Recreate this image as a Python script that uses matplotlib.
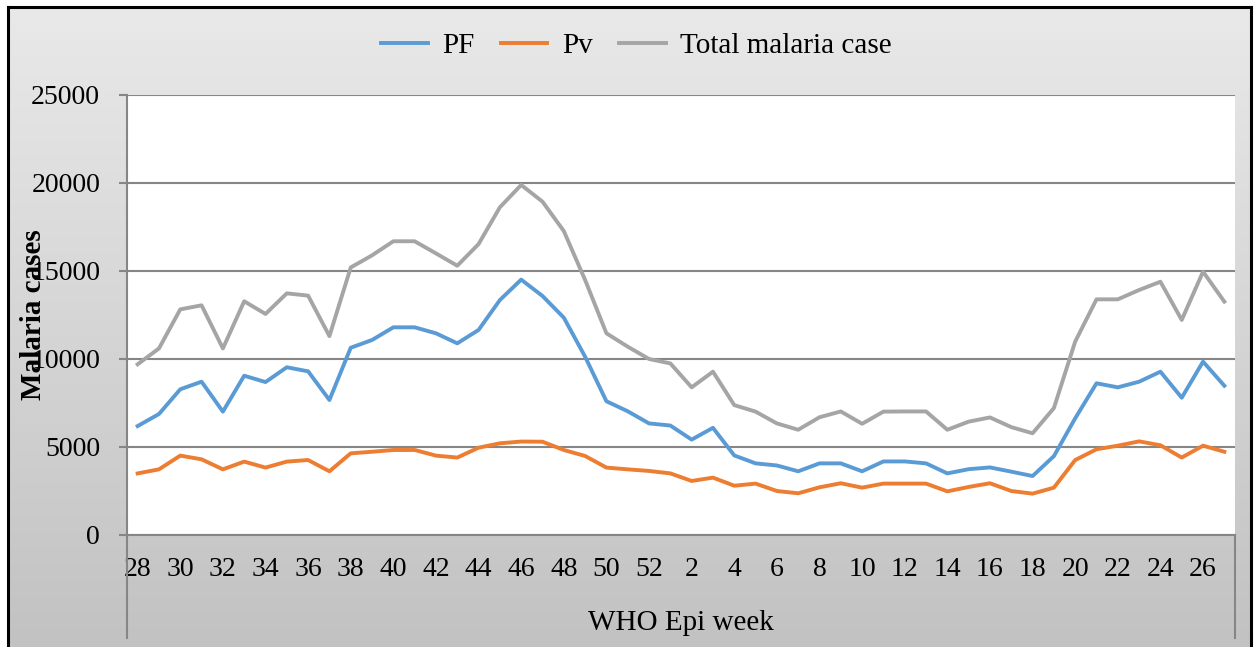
import numpy as np
import matplotlib
matplotlib.use("Agg")
import matplotlib.pyplot as plt
from matplotlib.lines import Line2D
from matplotlib.colors import LinearSegmentedColormap

# ---------------- data ----------------
weeks = [28, 29, 30, 31, 32, 33, 34, 35, 36, 37, 38, 39, 40, 41, 42, 43, 44, 45, 46,
         47, 48, 49, 50, 51, 52, 1, 2, 3, 4, 5, 6, 7, 8, 9, 10, 11, 12, 13, 14, 15,
         16, 17, 18, 19, 20, 21, 22, 23, 24, 25, 26, 27]

pf = [6190, 6875, 8280, 8710, 7010, 9050, 8690, 9530, 9300, 7670,
      10640, 11080, 11800, 11800, 11460, 10890, 11650, 13350, 14510, 13580,
      12350, 10130, 7600, 7030, 6340, 6220, 5420, 6090, 4520, 4070,
      3950, 3620, 4070, 4070, 3620, 4180, 4180, 4070, 3500, 3740,
      3840, 3600, 3350, 4480, 6630, 8620, 8390, 8710, 9280, 7800,
      9850, 8480]

pv = [3500, 3730, 4510, 4300, 3730, 4170, 3830, 4170, 4260, 3620,
      4640, 4730, 4830, 4830, 4510, 4400, 4960, 5210, 5310, 5300,
      4830, 4490, 3830, 3730, 3640, 3500, 3070, 3260, 2800, 2920,
      2500, 2370, 2710, 2940, 2690, 2920, 2920, 2920, 2480, 2730,
      2940, 2500, 2350, 2690, 4260, 4870, 5075, 5320, 5100, 4400,
      5075, 4730]

total = [9700, 10600, 12820, 13050, 10600, 13280, 12560, 13730, 13600, 11300,
         15200, 15890, 16690, 16690, 16000, 15300, 16530, 18620, 19890, 18940,
         17270, 14490, 11460, 10700, 10000, 9750, 8390, 9280, 7380, 7010,
         6340, 5980, 6690, 7020, 6320, 7010, 7020, 7020, 5980, 6440,
         6680, 6130, 5780, 7210, 10990, 13390, 13390, 13920, 14390, 12220,
         14960, 13260]

series_names = ["PF", "Pv", "Total malaria case"]
series_colors = ["#5B9BD5", "#ED7D31", "#A5A5A5"]
y_ticks = [0, 5000, 10000, 15000, 20000, 25000]

# ---------------- figure ----------------
W, H = 1255, 647
fig = plt.figure(figsize=(W / 100, H / 100), dpi=100)
fig.patch.set_facecolor("white")

serif = ["Liberation Serif", "DejaVu Serif"]
plt.rcParams["font.family"] = serif

# gradient background inside the black frame
bx0, bx1, by_top = 8 / W, 1251 / W, 1 - 7 / H
bg = fig.add_axes([bx0, 0, bx1 - bx0, by_top], zorder=-10)
cmap = LinearSegmentedColormap.from_list("g", ["#c2c2c2", "#e9e9e9"])
grad = np.linspace(0, 1, 256).reshape(-1, 1)
bg.imshow(grad, aspect="auto", cmap=cmap, origin="lower", extent=[0, 1, 0, 1])
bg.set_axis_off()

# black frame
for xs, ys in [([bx0, bx0], [0, by_top]), ([bx1, bx1], [0, by_top]), ([bx0, bx1], [by_top, by_top])]:
    fig.add_artist(Line2D(xs, ys, transform=fig.transFigure, color="black", lw=2.2))

# main axes
L, R, T, B = 127, 1235, 95, 535
ax = fig.add_axes([L / W, 1 - B / H, (R - L) / W, (B - T) / H])
ax.set_facecolor("white")

x = np.arange(len(weeks))
for vals, name, col in zip([pf, pv, total], series_names, series_colors):
    ax.plot(x, vals, color=col, lw=2.8, label=name, solid_joinstyle="round")

ax.set_xlim(-0.5, len(weeks) - 0.5)
ax.set_ylim(0, 25000)
ax.set_yticks(y_ticks)
ax.set_yticklabels([str(v) for v in y_ticks])
ax.set_xticks(x[::2])
ax.set_xticklabels([str(w) for w in weeks[::2]])

grid_col = "#868686"
ax.yaxis.grid(True, color=grid_col, lw=1.5)
ax.set_axisbelow(True)
for s in ["top", "right"]:
    ax.spines[s].set_visible(False)
for s in ["left", "bottom"]:
    ax.spines[s].set_color(grid_col)
    ax.spines[s].set_linewidth(1.5)

ax.tick_params(axis="y", length=5.8, width=1.5, color=grid_col, pad=13.5,
               labelsize=20, labelcolor="black")
ax.tick_params(axis="x", length=0, pad=16, labelsize=20, labelcolor="black")

# category box below the axis
yb = (B - 638) / (B - T)
for xx in [0, 1]:
    ax.add_line(Line2D([xx, xx], [0, yb], transform=ax.transAxes, color=grid_col,
                       lw=1.5, clip_on=False))

ax.set_xlabel("WHO Epi week", fontsize=21)
ax.xaxis.label.set_va("center")
ax.xaxis.set_label_coords(0.5, (B - 623) / (B - T))

ax.set_ylabel("Malaria cases", fontsize=21, fontweight="bold")
ax.yaxis.label.set_va("center")
ax.yaxis.set_label_coords((33 - L) / (R - L), 0.5)

handles, labels = ax.get_legend_handles_labels()
fig.legend(handles, labels, loc="center", bbox_to_anchor=(0.507, 1 - 46 / H),
           ncol=3, frameon=False, fontsize=21, handlelength=1.6,
           handletextpad=0.5, columnspacing=0.9)

fig.savefig("out.png", dpi=100)
